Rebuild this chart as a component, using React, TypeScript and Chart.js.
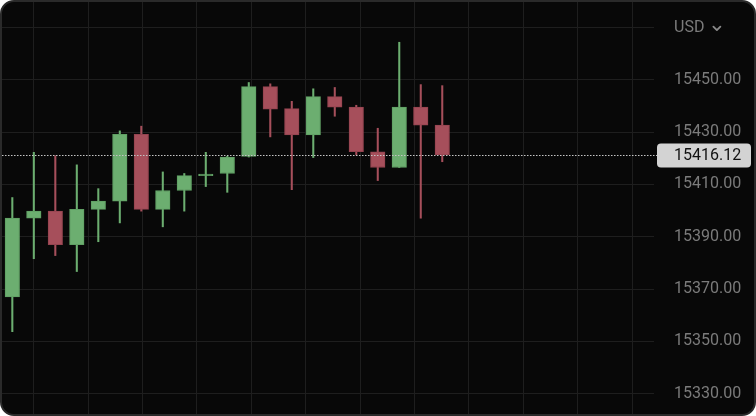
import React, { useEffect, useRef } from "react";
import { Chart, registerables } from "chart.js";

Chart.register(...registerables);

// ---- data ----
const categories = [0, 1, 2, 3, 4, 5, 6, 7, 8, 9, 10, 11, 12, 13, 14, 15, 16, 17, 18, 19, 20];
const opens = [15367.0, 15397.1, 15399.8, 15387.0, 15400.5, 15403.6, 15429.2, 15400.5, 15407.7, 15413.4, 15414.2, 15420.7, 15447.4, 15439.0, 15429.0, 15443.6, 15439.6, 15422.5, 15416.5, 15439.6, 15432.7];
const highs = [15405.0, 15422.3, 15421.0, 15417.5, 15408.4, 15430.5, 15432.3, 15414.8, 15414.2, 15422.3, 15420.8, 15449.0, 15448.5, 15441.8, 15446.6, 15447.1, 15440.3, 15431.5, 15464.4, 15448.2, 15447.8];
const lows = [15353.7, 15381.6, 15382.8, 15376.7, 15388.1, 15395.3, 15399.8, 15393.8, 15399.8, 15409.2, 15407.0, 15420.5, 15428.2, 15408.0, 15420.3, 15436.1, 15421.3, 15411.5, 15416.5, 15397.1, 15418.7];
const closes = [15397.1, 15399.8, 15387.0, 15400.5, 15403.6, 15429.2, 15400.5, 15407.7, 15413.4, 15414.0, 15420.5, 15447.4, 15438.8, 15429.0, 15443.6, 15439.6, 15422.5, 15416.5, 15439.6, 15432.7, 15421.3];
const yTicks = [15330, 15350, 15370, 15390, 15410, 15430, 15450, 15470];
const xGridTicks = [1, 3.53, 6.06, 8.59, 11.12, 13.65, 16.18, 18.71, 21.24, 23.77, 26.3, 28.83];
const currencyLabel = "USD";
const lastPriceLabel = "15416.12";

const GREEN = "#6cae70";
const GREEN_BORDER = "#5f9f63";
const RED = "#a64f5b";
const RED_BORDER = "#94434f";
const TEXT = "#7b7b7b";
const GRID = "#1e1e1e";
const FONT = "Roboto, 'Noto Sans', sans-serif";

export default function App() {
  const ref = useRef<HTMLCanvasElement | null>(null);

  useEffect(() => {
    let chart: Chart | null = null;
    let cancelled = false;

    const up = categories.map((_, i) => closes[i] >= opens[i]);
    const fill = up.map((u) => (u ? GREEN : RED));
    const border = up.map((u) => (u ? GREEN_BORDER : RED_BORDER));

    const overlay = {
      id: "overlay",
      afterDatasetsDraw(c: any) {
        const ctx = c.ctx as CanvasRenderingContext2D;
        const area = c.chartArea;
        const ys = c.scales.y;
        const y = ys.getPixelForValue(closes[closes.length - 1]);
        const labelX = area.right + 20;
        ctx.save();
        ctx.strokeStyle = "#c4c4c4";
        ctx.lineWidth = 1;
        ctx.setLineDash([1.5, 1.5]);
        ctx.beginPath();
        ctx.moveTo(area.left, Math.round(y) + 0.5);
        ctx.lineTo(area.right + 3, Math.round(y) + 0.5);
        ctx.stroke();
        ctx.setLineDash([]);
        const bx = area.right + 3;
        const bw = 94;
        const bh = 24;
        const by = y - bh / 2 + 0.5;
        ctx.fillStyle = "#d3d3d3";
        ctx.beginPath();
        (ctx as any).roundRect(bx, by, bw, bh, 4);
        ctx.fill();
        ctx.fillStyle = "#121212";
        ctx.font = "16px " + FONT;
        ctx.textAlign = "left";
        ctx.textBaseline = "middle";
        ctx.fillText(lastPriceLabel, labelX, y + 1);
        const ty = ys.getPixelForValue(yTicks[yTicks.length - 1]);
        const w = ctx.measureText(currencyLabel).width;
        const cx = labelX + w + 9;
        ctx.strokeStyle = "#8a8a8a";
        ctx.lineWidth = 1.8;
        ctx.lineCap = "round";
        ctx.lineJoin = "round";
        ctx.beginPath();
        ctx.moveTo(cx, ty - 1);
        ctx.lineTo(cx + 3.5, ty + 2.5);
        ctx.lineTo(cx + 7, ty - 1);
        ctx.stroke();
        ctx.restore();
      },
    };

    const build = () => {
      if (cancelled || !ref.current) return;
      chart = new Chart(ref.current, {
        type: "bar",
        data: {
          datasets: [
            {
              label: "body",
              data: categories.map((x, i) => ({ x, y: [opens[i], closes[i]] })) as any,
              backgroundColor: fill,
              borderColor: border,
              borderWidth: 1,
              borderSkipped: false,
              barThickness: 14.5,
              grouped: false,
              order: 0,
            } as any,
            {
              label: "wick",
              data: categories.map((x, i) => ({ x, y: [lows[i], highs[i]] })) as any,
              backgroundColor: fill,
              borderWidth: 0,
              barThickness: 1.4,
              grouped: false,
              order: 1,
            } as any,
          ],
        },
        options: {
          animation: false,
          responsive: true,
          maintainAspectRatio: false,
          layout: { padding: 0 },
          plugins: { legend: { display: false }, tooltip: { enabled: false } },
          scales: {
            x: {
              type: "linear",
              min: -0.48,
              max: 29.85,
              offset: false,
              grid: { color: GRID, drawTicks: false, lineWidth: 1, offset: false },
              border: { display: false },
              ticks: { display: false },
              afterBuildTicks: (s: any) => {
                s.ticks = xGridTicks.map((v) => ({ value: v }));
              },
            },
            y: {
              type: "linear",
              position: "right",
              min: 15322.2,
              max: 15479.8,
              grid: { color: GRID, drawTicks: false, lineWidth: 1 },
              border: { display: false },
              ticks: {
                padding: 20,
                color: TEXT,
                font: { family: FONT, size: 16 },
                callback: (v: any) => (v === yTicks[yTicks.length - 1] ? currencyLabel : Number(v).toFixed(2)),
              },
              afterBuildTicks: (s: any) => {
                s.ticks = yTicks.map((v) => ({ value: v }));
              },
              afterFit: (s: any) => {
                s.width = 100;
                s.paddingTop = 0;
                s.paddingBottom = 0;
              },
            },
          },
        } as any,
        plugins: [overlay],
      });
    };

    if ((document as any).fonts && (document as any).fonts.load) {
      (document as any).fonts.load("16px Roboto").then(build, build);
    } else {
      build();
    }

    return () => {
      cancelled = true;
      if (chart) chart.destroy();
    };
  }, []);

  return (
    <>
      <style>{`html,body{margin:0;padding:0;background:#ffffff;}`}</style>
      <div
        style={{
          width: 756,
          height: 416,
          boxSizing: "border-box",
          border: "2px solid #2a2a2a",
          borderRadius: 14,
          background: "#080808",
          overflow: "hidden",
        }}
      >
        <div style={{ position: "relative", width: 752, height: 412 }}>
          <canvas ref={ref} />
        </div>
      </div>
    </>
  );
}
